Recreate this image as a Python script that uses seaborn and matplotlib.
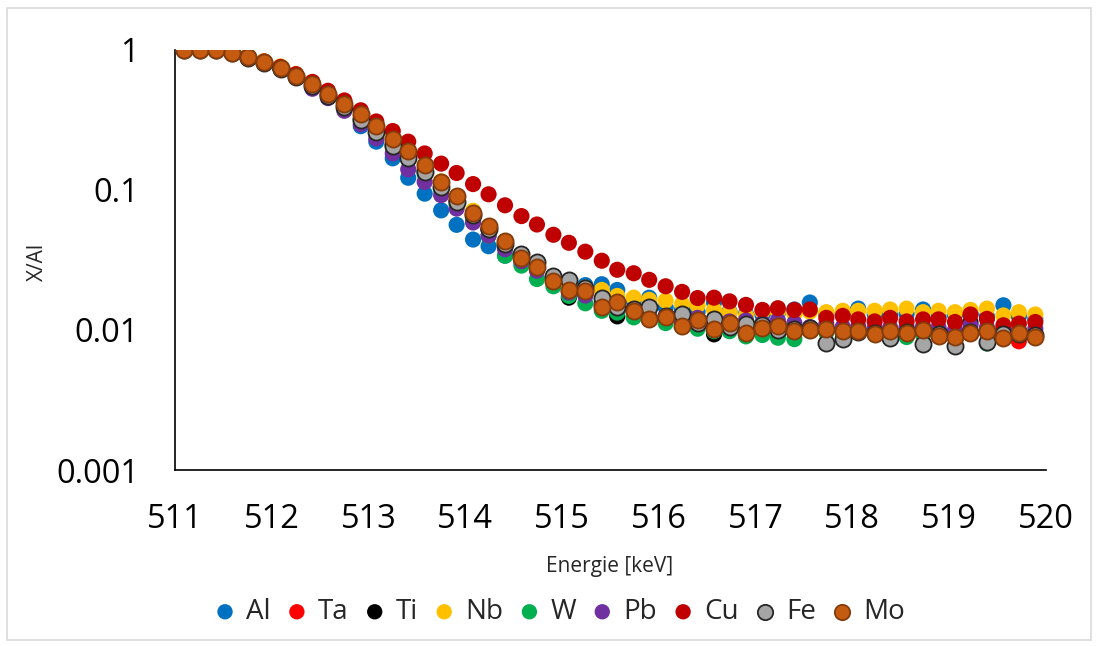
import numpy as np
import pandas as pd
import matplotlib
matplotlib.use("Agg")
import matplotlib.pyplot as plt
import seaborn as sns
from matplotlib.patches import Rectangle

# energy grid (keV), 54 channels
energie = [511.09, 511.26, 511.42, 511.59, 511.75, 511.92, 512.09, 512.25, 512.42, 512.58,
           512.75, 512.92, 513.08, 513.25, 513.41, 513.58, 513.75, 513.91, 514.08, 514.24,
           514.41, 514.58, 514.74, 514.91, 515.07, 515.24, 515.41, 515.57, 515.74, 515.90,
           516.07, 516.24, 516.40, 516.57, 516.73, 516.90, 517.07, 517.23, 517.40, 517.56,
           517.73, 517.90, 518.06, 518.23, 518.39, 518.56, 518.73, 518.89, 519.06, 519.22,
           519.39, 519.56, 519.72, 519.89]

al = [1.0, 1.0, 0.99, 0.947, 0.886, 0.816, 0.738, 0.65, 0.56, 0.48,
      0.40, 0.285, 0.221, 0.168, 0.122, 0.094, 0.0714, 0.0563, 0.0442, 0.0396,
      0.0339, 0.030, 0.027, 0.0225, 0.0195, 0.0209, 0.0212, 0.0193, 0.016, 0.017,
      0.0145, 0.014, 0.0135, 0.0157, 0.0135, 0.013, 0.0128, 0.0132, 0.014, 0.0157,
      0.013, 0.013, 0.0142, 0.013, 0.0128, 0.013, 0.014, 0.0125, 0.0128, 0.013,
      0.0125, 0.015, 0.0125, 0.012]

ta = [1.0, 1.0, 0.99, 0.946, 0.884, 0.813, 0.735, 0.647, 0.562, 0.48,
      0.40, 0.33, 0.27, 0.215, 0.175, 0.14, 0.108, 0.085, 0.067, 0.053,
      0.042, 0.033, 0.028, 0.0225, 0.019, 0.018, 0.015, 0.0145, 0.0135, 0.012,
      0.0118, 0.011, 0.011, 0.0102, 0.0108, 0.0098, 0.0102, 0.0103, 0.0098, 0.0099,
      0.0098, 0.0097, 0.0096, 0.0094, 0.0097, 0.0094, 0.0097, 0.0091, 0.009, 0.0094,
      0.0096, 0.009, 0.0083, 0.009]

ti = [1.0, 1.0, 0.99, 0.945, 0.88, 0.81, 0.73, 0.645, 0.56, 0.475,
      0.395, 0.32, 0.262, 0.21, 0.17, 0.135, 0.106, 0.083, 0.066, 0.052,
      0.041, 0.034, 0.0295, 0.0225, 0.017, 0.018, 0.0155, 0.0125, 0.0138, 0.0125,
      0.012, 0.0118, 0.0112, 0.0093, 0.011, 0.010, 0.010, 0.010, 0.010, 0.010,
      0.010, 0.0098, 0.0097, 0.0096, 0.0097, 0.0098, 0.0096, 0.010, 0.0095, 0.0113,
      0.0098, 0.0095, 0.0096, 0.0094]

nb = [1.0, 1.0, 0.99, 0.955, 0.90, 0.83, 0.76, 0.67, 0.585, 0.50,
      0.42, 0.355, 0.295, 0.235, 0.19, 0.15, 0.115, 0.09, 0.071, 0.055,
      0.043, 0.034, 0.028, 0.0235, 0.0205, 0.020, 0.0193, 0.0175, 0.017, 0.0164,
      0.0162, 0.0153, 0.015, 0.0139, 0.0133, 0.0127, 0.0135, 0.0135, 0.013, 0.0135,
      0.0134, 0.0137, 0.0137, 0.0137, 0.014, 0.0142, 0.0134, 0.0137, 0.0134, 0.0139,
      0.0142, 0.0127, 0.0134, 0.0129]

w = [1.0, 1.0, 0.99, 0.945, 0.88, 0.81, 0.73, 0.64, 0.555, 0.47,
     0.39, 0.315, 0.256, 0.205, 0.165, 0.13, 0.10, 0.078, 0.06, 0.047,
     0.0339, 0.0288, 0.0231, 0.0205, 0.0175, 0.0155, 0.0137, 0.0133, 0.0123, 0.0118,
     0.0112, 0.0105, 0.0102, 0.0098, 0.0098, 0.009, 0.0092, 0.0088, 0.0086, 0.0098,
     0.0096, 0.0095, 0.0097, 0.0095, 0.0096, 0.0089, 0.0093, 0.0095, 0.0092, 0.0094,
     0.008, 0.009, 0.0092, 0.0092]

pb = [1.0, 1.0, 0.99, 0.947, 0.886, 0.816, 0.735, 0.64, 0.527, 0.452,
      0.367, 0.294, 0.233, 0.182, 0.14, 0.114, 0.0917, 0.0735, 0.0585, 0.0472,
      0.0377, 0.031, 0.0265, 0.022, 0.0185, 0.0176, 0.015, 0.0145, 0.0141, 0.0125,
      0.0125, 0.0115, 0.0122, 0.011, 0.0115, 0.0117, 0.0112, 0.0117, 0.0112, 0.0105,
      0.011, 0.0105, 0.0106, 0.0103, 0.0104, 0.0105, 0.0106, 0.0104, 0.010, 0.0108,
      0.0104, 0.0102, 0.010, 0.0102]

cu = [1.0, 1.0, 0.99, 0.95, 0.89, 0.825, 0.755, 0.67, 0.59, 0.51,
      0.435, 0.37, 0.308, 0.263, 0.221, 0.182, 0.154, 0.132, 0.11, 0.093,
      0.0776, 0.065, 0.0566, 0.0478, 0.0419, 0.0362, 0.0312, 0.0269, 0.0254, 0.0228,
      0.0205, 0.0187, 0.0169, 0.017, 0.016, 0.0151, 0.0139, 0.0143, 0.0139, 0.014,
      0.0122, 0.0126, 0.0119, 0.0115, 0.0122, 0.0115, 0.0119, 0.0119, 0.0114, 0.0129,
      0.012, 0.0108, 0.0111, 0.0114]

fe = [1.0, 1.0, 0.99, 0.945, 0.88, 0.81, 0.73, 0.64, 0.555, 0.47,
      0.39, 0.316, 0.258, 0.207, 0.168, 0.135, 0.105, 0.082, 0.0657, 0.0527,
      0.0412, 0.0349, 0.0304, 0.0244, 0.0228, 0.0198, 0.0168, 0.0147, 0.0141, 0.0145,
      0.0125, 0.0129, 0.0112, 0.0119, 0.0105, 0.011, 0.0108, 0.010, 0.0102, 0.0104,
      0.0081, 0.0086, 0.0097, 0.0095, 0.0088, 0.0096, 0.0079, 0.0093, 0.0077, 0.0096,
      0.0082, 0.0093, 0.0094, 0.0092]

mo = [1.0, 1.0, 0.99, 0.947, 0.886, 0.816, 0.738, 0.65, 0.566, 0.485,
      0.41, 0.347, 0.288, 0.231, 0.19, 0.15, 0.114, 0.0906, 0.0687, 0.055,
      0.0435, 0.0325, 0.0282, 0.0224, 0.0192, 0.019, 0.0145, 0.0158, 0.0137, 0.0119,
      0.0123, 0.0107, 0.0117, 0.0102, 0.0112, 0.0095, 0.0103, 0.0106, 0.0099, 0.010,
      0.0101, 0.0098, 0.0098, 0.0093, 0.0098, 0.0095, 0.010, 0.009, 0.0089, 0.0095,
      0.0098, 0.0088, 0.0095, 0.0089]

names = ["Al", "Ta", "Ti", "Nb", "W", "Pb", "Cu", "Fe", "Mo"]
series = [al, ta, ti, nb, w, pb, cu, fe, mo]
colors = ["#0070C0", "#FF0000", "#000000", "#FFC000", "#00B050",
          "#7030A0", "#C00000", "#A5A5A5", "#C55A11"]
edges = ["none", "none", "none", "none", "none",
         "none", "none", "#262626", "#843C0C"]

frames = []
for n, v in zip(names, series):
    frames.append(pd.DataFrame({"Energie": energie, "ratio": v, "elem": n}))
df = pd.concat(frames, ignore_index=True)

sns.set_style("white")
plt.rcParams["font.family"] = ["Open Sans", "DejaVu Sans"]

fig = plt.figure(figsize=(10.98, 6.46), dpi=100)
ax = fig.add_axes([0.1594, 0.2724, 0.7932, 0.6505])

for n, c, e in zip(names, colors, edges):
    sub = df[df["elem"] == n]
    sns.scatterplot(data=sub, x="Energie", y="ratio", color=c, edgecolor=e,
                    linewidth=1.3 if e != "none" else 0, s=135, label=n, ax=ax,
                    zorder=3)

ax.set_yscale("log")
ax.set_ylim(0.001, 1)
ax.set_xlim(511, 520)
ax.set_xticks(range(511, 521))
ax.set_yticks([0.001, 0.01, 0.1, 1])
ax.set_yticklabels(["0.001", "0.01", "0.1", "1"])
ax.minorticks_off()
ax.tick_params(axis="both", length=0, labelsize=23.5, colors="#000000")
ax.tick_params(axis="y", pad=26)
ax.tick_params(axis="x", pad=24)
for s in ["top", "right"]:
    ax.spines[s].set_visible(False)
for s in ["left", "bottom"]:
    ax.spines[s].set_color("#000000")
    ax.spines[s].set_linewidth(1.2)

ax.set_xlabel("Energie [keV]", fontsize=15)
ax.set_ylabel("X/Al", fontsize=15)
ax.xaxis.set_label_coords(0.499, -0.205)
ax.yaxis.set_label_coords(-0.146, 0.495)

ax.legend(loc="center", bbox_to_anchor=(0.442, -0.338), ncol=9,
          frameon=False, fontsize=20, handlelength=0.7, handletextpad=0.4,
          columnspacing=0.6, markerscale=0.95, borderaxespad=0)

fig.patches.append(Rectangle((0.006, 0.01), 0.988, 0.978, transform=fig.transFigure,
                             fill=False, edgecolor="#D9D9D9", linewidth=1.2))

fig.savefig("out.png", dpi=100)
